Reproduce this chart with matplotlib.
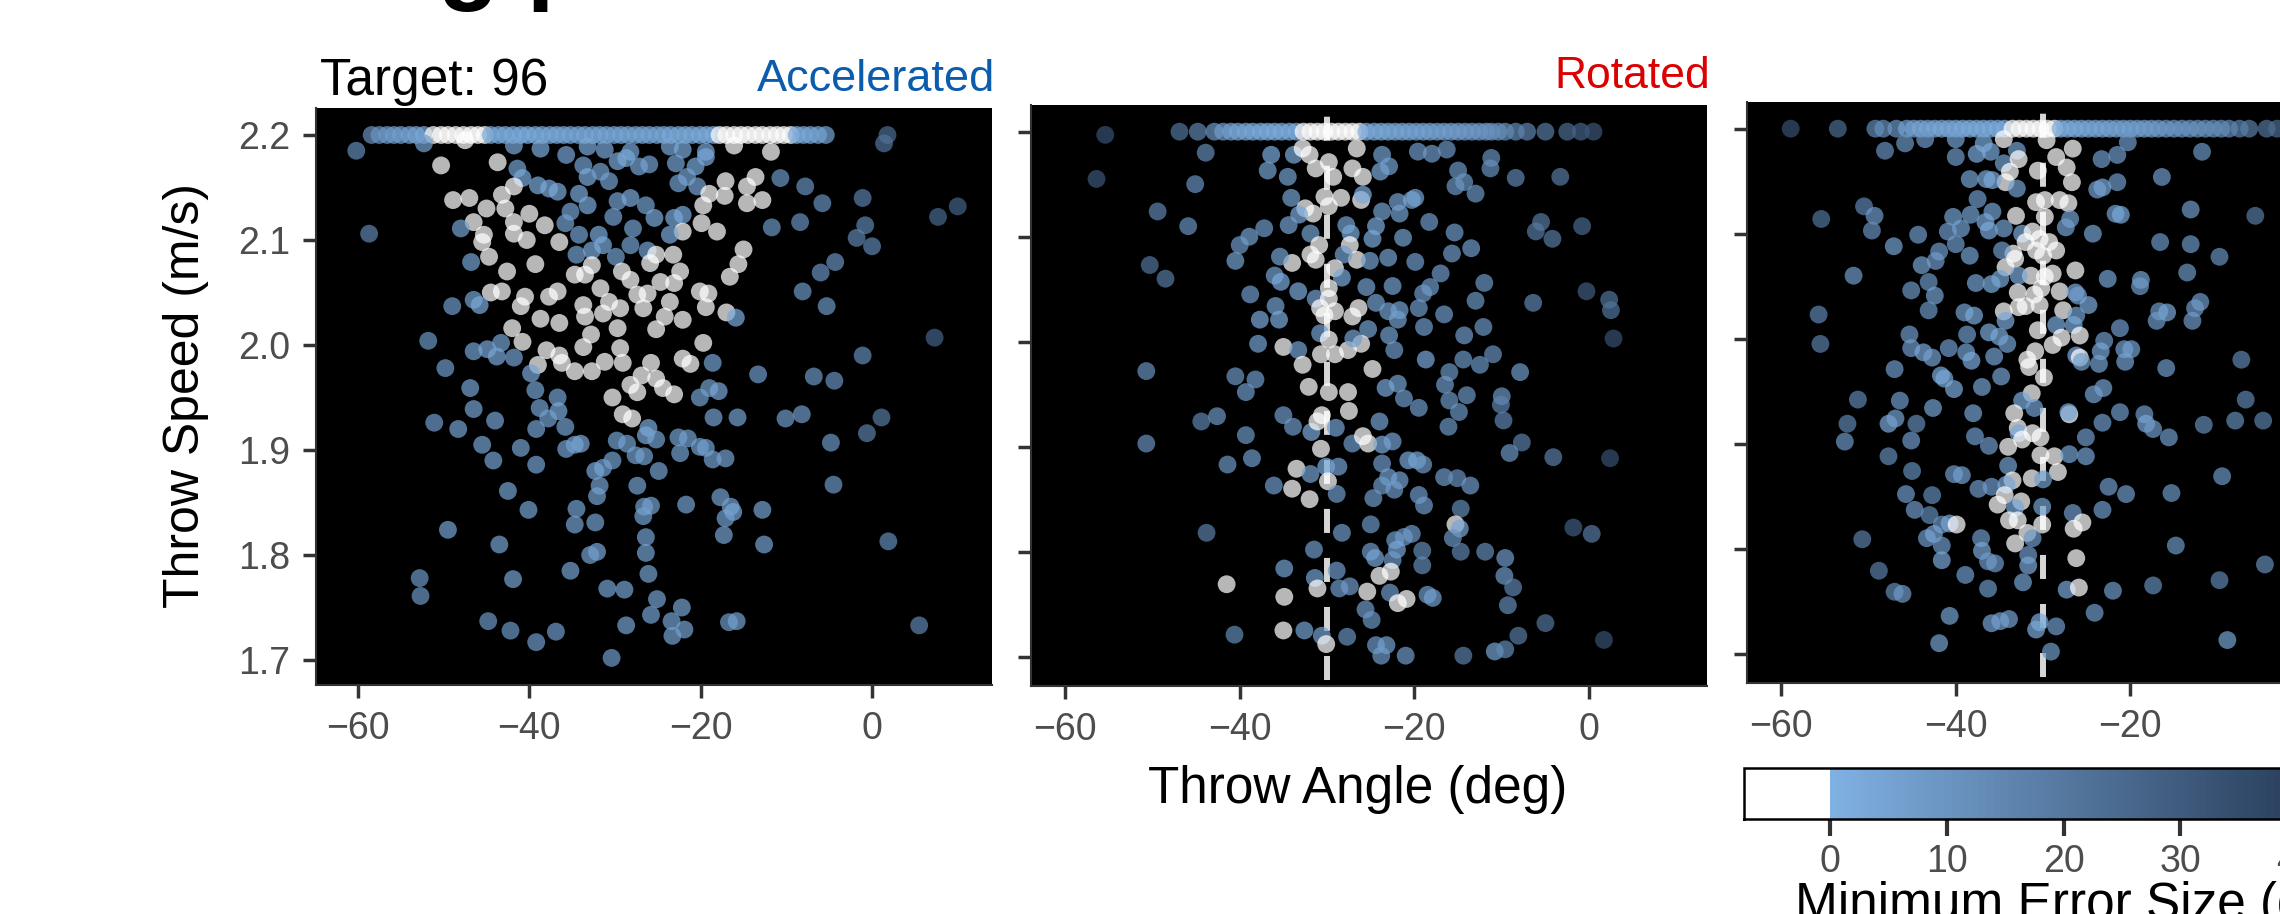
import matplotlib
matplotlib.use("Agg")
import matplotlib.pyplot as plt
from matplotlib.colors import LinearSegmentedColormap, Normalize
from matplotlib.cm import ScalarMappable

plt.rcParams['font.family'] = ['Liberation Sans', 'DejaVu Sans']
plt.rcParams['lines.scale_dashes'] = False

# ---------------- data ----------------
panel_titles = ["Accelerated", "Rotated"]
speed_ticks = [1.7, 1.8, 1.9, 2.0, 2.1, 2.2]
angle_ticks = [-60, -40, -20, 0]
error_ticks = [0, 10, 20, 30, 40, 50]
target_angle = -30
top_speed = 2.2

# Panel 1 (Accelerated): throws at the capped top speed
acc_top_angle = [-58.4, -57.5, -56.6, -55.8, -55.0, -54.0, -53.2, -52.3,
                 -51.2, -50.3, -49.5, -48.6, -47.7, -46.8, -46.0, -45.2,
                 -44.5, -43.6, -42.8, -41.9, -41.0, -40.2, -39.3, -38.5, -37.6, -36.8,
                 -36.0, -35.2, -34.3, -33.5, -32.6, -31.8, -31.0, -30.1, -29.3, -28.5,
                 -27.6, -26.8, -26.0, -25.1, -24.3, -23.5, -22.6, -21.8, -21.0, -20.1,
                 -19.3, -18.5,
                 -17.8, -17.0, -16.1, -15.3, -14.5, -13.6, -12.8, -11.9, -11.1, -10.3, -9.5,
                 -8.8, -8.0, -7.2, -6.3, -5.4, 1.8]
acc_top_error = [12, 10, 8, 7, 6, 5, 4, 3,
                 -4, -4, -4, -4, -4, -4, -4, -4,
                 3, 3, 2, 2, 2, 2, 2, 3, 3, 3,
                 4, 4, 4, 4, 4, 4, 4, 4, 4, 4,
                 4, 4, 4, 4, 4, 3, 3, 3, 3, 2,
                 2, 2,
                 -4, -4, -4, -4, -4, -4, -4, -4, -4, -4, -4,
                 2, 3, 3, 4, 5, 24]

acc_angle = [-60.2, -52.3, -47.5, -41.8, -38.7, -35.7, -33.2, -31.2, -28.2, -23.6, -22.1, -19.4, -16.1, -11.8, 1.4,
             -50.3, -43.7, -41.4, -33.7, -29.7, -28.7, -26.0, -22.9, -20.6, -19.4, -27.2,
             -40.8, -39.0, -36.7, -37.7, -41.8, -33.2, -31.7, -30.7, -34.2, -22.6, -21.6, -20.4, -17.1, -13.6, -14.6, -10.7, -7.8, -19.0,
             -48.9, -47.0, -43.2, -45.0, -42.8, -40.0, -33.2, -35.2, -29.7, -28.2, -26.4, -19.7, -17.2, -14.6, -12.8, -5.8, -1.1, 10.0, 7.7,
             -46.5, -41.8, -38.2, -35.8, -30.2, -27.9, -25.4, -23.1, -22.1, -19.9, -22.1, -18.1, -11.7, -8.4, -0.8, -1.8, 0.0, -58.7, -48.0,
             -45.3, -45.5, -41.8, -40.3, -36.5, -34.2, -31.9, -31.4, -28.2, -23.6, -26.2, -15.0,
             -44.7, -46.8, -42.6, -39.3, -34.5, -32.7, -29.9, -32.7, -25.2, -23.2, -25.9, -29.2, -22.4, -15.6, -16.6, -4.3, -6.0,
             -34.7, -33.5, -28.2, -31.7, -24.7, -23.1, -20.1, -19.1, -27.4, -26.2, -44.5, -43.2, -40.5, -37.7, -36.7, -8.1,
             -49.0, -46.5, -45.8, -41.0, -33.7, -30.7, -29.4, -26.7, -23.6, -19.4, -17.0, -15.9, -5.3, -38.7, -36.5, -33.5, -31.4, -24.2, -22.1,
             -42.0, -40.8, -32.8, -29.7, -25.2, -33.7, -29.4, -19.7, -51.8, 7.3, -1.1,
             -46.5, -44.9, -43.3, -43.8, -41.8, -38.0, -36.5, -39.0, -36.2, -34.7, -32.7, -31.2, -29.1, -25.8, -22.1, -21.2, -18.6, -39.8, -49.8, -13.3, -6.8, -4.4,
             -26.9, -28.2, -25.2, -24.4, -23.1, -27.4, -46.9, -39.3, -19.0, -17.9, -36.7, -30.3, -20.1,
             -46.5, -51.1, -48.3, -44.0, -45.5, -44.2, -41.0, -39.2, -38.8, -36.6, -37.8, -35.8, -34.7, -34.0, -35.7, -39.2,
             -29.1, -28.0, -18.5, -15.7, -10.1, -8.2, 1.1, -0.6, -4.8,
             -29.8, -28.6, -26.1, -26.4, -25.2, -22.6, -21.5, -20.1, -19.4, -22.4, -18.6, -17.1, -27.6, -26.6, -30.3, -31.4, -32.3, -24.9, -31.8,
             -32.1, -27.4, -42.5, -40.1, -34.5, -34.7, -32.3, -26.6, -25.8, -26.7, -21.7, -17.7, -16.5, -16.2, -17.1, -12.8, -4.5, -17.3,
             -12.6, 1.9, -49.5, -43.5, -26.4, -26.4, -32.1, -32.9, -35.2, -26.1, -52.8, -52.7, -41.9, -30.9, -28.9, -25.1, -22.2, -25.8,
             -23.4, -21.9, -23.3, -28.7, -16.7, -15.8, -44.8, -42.2, -36.9, -39.2, -30.4, 5.5]
acc_speed = [2.185, 2.192, 2.195, 2.190, 2.187, 2.181, 2.189, 2.186, 2.184, 2.189, 2.186, 2.184, 2.190, 2.184, 2.192,
             2.171, 2.174, 2.168, 2.171, 2.175, 2.178, 2.172, 2.173, 2.170, 2.179, 2.170,
             2.159, 2.152, 2.146, 2.149, 2.151, 2.160, 2.165, 2.156, 2.144, 2.154, 2.160, 2.151, 2.156, 2.160, 2.151, 2.159, 2.151, 2.144,
             2.138, 2.140, 2.143, 2.130, 2.130, 2.125, 2.133, 2.127, 2.137, 2.140, 2.133, 2.133, 2.142, 2.135, 2.138, 2.135, 2.140, 2.132, 2.122,
             2.117, 2.117, 2.114, 2.116, 2.122, 2.111, 2.121, 2.121, 2.124, 2.116, 2.108, 2.108, 2.112, 2.117, 2.114, 2.102, 2.094, 2.106, 2.111,
             2.105, 2.098, 2.106, 2.100, 2.098, 2.105, 2.105, 2.095, 2.095, 2.105, 2.090, 2.091,
             2.084, 2.079, 2.070, 2.077, 2.086, 2.090, 2.084, 2.076, 2.086, 2.086, 2.078, 2.070, 2.070, 2.077, 2.065, 2.079, 2.069,
             2.067, 2.067, 2.062, 2.054, 2.060, 2.059, 2.051, 2.049, 2.048, 2.049, 2.050, 2.051, 2.046, 2.046, 2.051, 2.051,
             2.037, 2.043, 2.038, 2.037, 2.038, 2.041, 2.035, 2.035, 2.041, 2.036, 2.031, 2.026, 2.037, 2.025, 2.021, 2.027, 2.030, 2.027, 2.024,
             2.016, 2.003, 2.010, 2.016, 2.015, 1.998, 1.997, 2.002, 2.004, 2.007, 1.990,
             1.994, 1.996, 2.002, 1.989, 1.988, 1.995, 1.990, 1.981, 1.983, 1.975, 1.975, 1.984, 1.983, 1.983, 1.987, 1.982, 1.983, 1.973, 1.978, 1.972, 1.970, 1.966,
             1.971, 1.962, 1.968, 1.959, 1.953, 1.955, 1.959, 1.957, 1.959, 1.956, 1.950, 1.950, 1.950,
             1.939, 1.926, 1.920, 1.928, 1.905, 1.890, 1.902, 1.920, 1.940, 1.937, 1.930, 1.922, 1.905, 1.906, 1.901, 1.886,
             1.934, 1.930, 1.931, 1.931, 1.930, 1.934, 1.931, 1.916, 1.907,
             1.909, 1.906, 1.921, 1.914, 1.910, 1.912, 1.911, 1.903, 1.902, 1.897, 1.891, 1.892, 1.895, 1.894, 1.890, 1.883, 1.880, 1.880, 1.866,
             1.856, 1.866, 1.861, 1.843, 1.844, 1.829, 1.831, 1.846, 1.847, 1.837, 1.848, 1.855, 1.846, 1.841, 1.835, 1.843, 1.867, 1.819,
             1.810, 1.813, 1.824, 1.810, 1.817, 1.802, 1.803, 1.800, 1.785, 1.782, 1.778, 1.761, 1.777, 1.768, 1.767, 1.758, 1.750, 1.743,
             1.737, 1.729, 1.723, 1.733, 1.736, 1.737, 1.737, 1.728, 1.727, 1.717, 1.702, 1.733]
acc_error = [14, 6, -4, 4, 3, 5, 3, 4, 4, 4, 3, 4, -4, -4, 22,
             -4, -4, 6, 6, 3, 3, 6, 5, 3, 3, 5,
             3, 3, 3, 3, -4, 3, 6, 6, 3, 6, 5, 5, -4, -4, -4, 10, 12, -4,
             -4, -4, -4, -4, -4, -4, 3, 6, 6, 3, 6, -4, -4, -4, -4, 12, 18, 28, 26,
             -4, -4, -4, 6, 6, 6, 3, 3, 3, -4, -4, -4, 10, 12, 16, 16, 16, 16, 6,
             -4, -4, -4, -4, -4, 6, 3, 3, 6, 3, 6, -4,
             -4, 6, -4, -4, 6, 3, 6, -4, -4, -4, -4, -4, -4, -4, -4, 12, 12,
             -4, -4, -4, -4, -4, -4, -4, -4, -4, -4, -4, -4, -4, -4, -4, 10,
             8, 6, 3, -4, -4, -4, -4, -4, -4, -4, -4, 3, 10, -4, -4, -4, -4, -4, -4,
             -4, -4, -4, -4, -4, -4, -4, -4, 10, 28, 14,
             6, 4, 6, 4, 6, -4, -4, -4, -4, -4, -4, -4, -4, -4, -4, -4, 6, 4, 8, 8, 10, 12,
             -4, -4, -4, -4, -4, -4, 6, 6, 6, 4, 6, -4, 6,
             6, 8, 6, 6, 6, 6, 6, 6, 6, 3, 6, 6, 4, 4, 6, 6,
             -4, -4, 6, 6, 8, 8, 20, 18, 10,
             6, 6, 3, 3, 6, 6, 6, 6, 6, 6, 6, 6, 6, 6, 6, 6, 4, 6, 6,
             6, 6, 6, 6, 6, 6, 6, 6, 6, 6, 6, 6, 6, 4, 6, 6, 10, 6,
             6, 14, 6, 6, 6, 6, 4, 6, 6, 6, 10, 10, 6, 6, 6, 6, 6, 6,
             6, 6, 6, 6, 8, 6, 10, 10, 8, 8, 8, 16]

# Panel 2 (Rotated)
rot_top_angle = [-46.9, -44.8, -42.9, -41.9, -41.0, -40.2, -39.3, -38.5, -37.6, -36.8, -36.0, -35.2, -34.3, -33.5,
                 -32.7, -31.9, -31.1, -30.3, -29.5, -28.7, -27.9, -27.1, -26.3,
                 -25.5, -24.6, -23.8, -23.0, -22.2, -21.4, -20.6, -19.8, -19.0, -18.2,
                 -17.4, -16.6, -15.8, -15.0, -14.2, -13.4, -12.6, -11.8, -11.2, -10.4,
                 -9.6, -8.4, -7.1, -5.0, -2.5, -0.95, 0.5]
rot_top_error = [22, 16, 10, 7, 5, 4, 3, 3, 2, 2, 2, 2, 2, 1,
                 -4, -4, -4, -4, -4, -4, -4, -4, -4,
                 1, 2, 3, 3, 4, 4, 4, 5, 5, 5,
                 6, 6, 6, 7, 7, 8, 8, 9, 10, 11,
                 12, 14, 16, 20, 24, 28, 32]

rot_angle = [-55.4, -43.9, -56.4, -45.1, -49.4, -45.9, -50.3, -48.5, -50.7,
             -36.4, -36.8, -34.5, -33.8, -32.8, -32.0, -31.3, -29.8, -29.3, -27.1, -26.6, -25.9, -23.7, -23.9, -22.9, -19.6, -18.0, -16.3, -11.2, -11.3, -15.0, -14.3, -15.3, -13.0, -8.4, -3.3,
             -34.1, -30.3, -28.4, -26.1, -25.9, -29.8, -32.5, -31.6, -33.2, -23.7, -21.9, -21.7, -19.9, -20.3, -18.3,
             -34.4, -37.2, -38.9, -40.0, -40.5, -31.9, -27.8, -27.3, -24.4, -24.8, -21.3, -15.4, -13.5, -15.7, -5.5, -6.1, -4.2, -0.8,
             -30.9, -27.4, -31.9, -34.0, -31.3, -35.4, -26.6, -28.1, -25.1, -23.0, -19.9, -29.1, -28.3, -36.0, -35.3, -17.0, -12.0,
             -38.8, -33.3, -31.3, -29.8, -29.8, -25.5, -22.5, -19.0, -18.2, -0.3, 2.3, 2.5, -6.4, -13.0,
             -35.9, -30.8, -30.3, -29.1, -26.4, -27.1, -24.4, -23.0, -21.7, -21.9, -19.5, -16.6, -37.7, -35.5,
             -30.8, -29.8, -25.3, -22.9, -18.9, -12.1, -14.3, 2.8,
             -37.9, -35.0, -33.3, -30.7, -29.1, -27.6, -26.1, -27.0, -22.3, -18.7, -16.0, -14.4, -12.5, -11.0, -7.9, -32.8, -24.8, -40.5, -38.2, -32.1, -29.8, -27.6, -21.9, -23.3, -16.5, -39.3, -14.0, -10.0,
             -44.4, -42.6, -50.7, -39.3, -38.6, -41.4, -35.0, -33.9, -31.8, -31.1, -30.6, -27.5, -29.0, -30.7, -27.1, -25.9, -25.3, -23.7, -22.5, -24.0, -21.2, -19.5, -16.0, -14.9, -16.1, -10.1, -9.8, -7.7, -9.1, -4.1, 2.4,
             -33.5, -31.9, -30.1, -28.7, -29.9, -36.1, -34.0, -32.0, -28.9, -23.7, -20.7, -19.7, -19.0, -23.0, -21.7, -23.7, -22.3, -24.7, -19.5, -18.9, -16.6, -15.1, -13.6, -14.7,
             -43.8, -28.3, -25.0, -15.3, -14.8, -15.6, -22.2, -20.3, -21.2, -1.8, 0.3,
             -31.5, -25.0, -24.5, -22.0, -22.5, -19.1, -19.1, -14.7, -11.9, -9.6, -9.7, -8.7, -9.3,
             -34.9, -28.9, -31.4, -22.7, -24.0, -41.5, -34.9, -31.1, -28.6, -27.4, -25.4, -22.8, -20.9, -21.9, -18.5, -17.9, -25.6, -24.9, -5.0,
             -40.6, -35.0, -32.6, -30.6, -30.1, -27.7, -24.4, -23.2, -23.8, -21.0, -14.4, -10.8, -9.6, -8.1, 1.7]
rot_speed = [2.197, 2.180, 2.155, 2.150, 2.124, 2.110, 2.073, 2.060, 1.972,
             2.178, 2.163, 2.157, 2.178, 2.184, 2.178, 2.165, 2.171, 2.157, 2.165, 2.184, 2.157, 2.178, 2.162, 2.167, 2.181, 2.179, 2.183, 2.175, 2.165, 2.163, 2.152, 2.148, 2.141, 2.156, 2.157,
             2.137, 2.138, 2.137, 2.135, 2.140, 2.129, 2.127, 2.122, 2.121, 2.124, 2.133, 2.122, 2.137, 2.135, 2.114,
             2.111, 2.108, 2.100, 2.092, 2.077, 2.103, 2.111, 2.103, 2.110, 2.098, 2.099, 2.104, 2.089, 2.084, 2.114, 2.105, 2.098, 2.110,
             2.092, 2.092, 2.083, 2.075, 2.078, 2.081, 2.078, 2.083, 2.077, 2.080, 2.076, 2.070, 2.061, 2.063, 2.057, 2.065, 2.056,
             2.045, 2.048, 2.041, 2.051, 2.041, 2.052, 2.053, 2.046, 2.052, 2.048, 2.040, 2.030, 2.037, 2.039,
             2.034, 2.032, 2.025, 2.029, 2.032, 2.024, 2.037, 2.029, 2.030, 2.021, 2.032, 2.026, 2.021, 2.021,
             2.008, 2.002, 2.012, 2.006, 2.014, 2.014, 2.006, 2.003,
             1.998, 1.995, 1.992, 1.988, 1.988, 1.992, 1.998, 2.003, 1.992, 1.983, 1.971, 1.983, 1.978, 1.988, 1.971, 1.978, 1.974, 1.967, 1.964, 1.957, 1.952, 1.952, 1.960, 1.956, 1.959, 1.952, 1.949, 1.948,
             1.924, 1.929, 1.903, 1.911, 1.889, 1.883, 1.930, 1.919, 1.914, 1.924, 1.930, 1.934, 1.918, 1.898, 1.903, 1.910, 1.903, 1.902, 1.905, 1.924, 1.946, 1.937, 1.944, 1.933, 1.919, 1.940, 1.925, 1.904, 1.894, 1.890, 1.889,
             1.879, 1.874, 1.881, 1.881, 1.867, 1.863, 1.860, 1.850, 1.855, 1.884, 1.887, 1.887, 1.883, 1.871, 1.868, 1.863, 1.859, 1.851, 1.854, 1.844, 1.871, 1.870, 1.863, 1.841,
             1.818, 1.818, 1.826, 1.826, 1.822, 1.813, 1.811, 1.817, 1.814, 1.823, 1.817,
             1.802, 1.800, 1.794, 1.802, 1.792, 1.801, 1.787, 1.800, 1.800, 1.794, 1.777, 1.766, 1.749,
             1.784, 1.782, 1.775, 1.781, 1.777, 1.769, 1.757, 1.765, 1.765, 1.767, 1.762, 1.761, 1.755, 1.751, 1.759, 1.756, 1.745, 1.735, 1.732,
             1.721, 1.725, 1.725, 1.720, 1.712, 1.719, 1.711, 1.711, 1.701, 1.701, 1.701, 1.705, 1.707, 1.720, 1.716]
rot_error = [34, 14, 32, 12, 16, 12, 22, 20, 12,
             3, 6, 6, 3, -4, -4, -4, -4, -4, -4, -4, -4, 6, 3, 6, 8, 8, 10, 12, 12, 10, 10, 10, 10, 16, 20,
             6, -4, -4, -4, 3, -4, -4, -4, 3, 6, 6, 6, 6, 4, 8,
             6, 8, 6, 8, 6, 6, 6, 3, 3, 3, 6, 8, 8, 8, 20, 20, 20, 26,
             -4, -4, -4, -4, -4, 6, -4, 6, 6, 6, 8, -4, 3, 6, 3, 8, 10,
             8, 3, 6, -4, -4, 6, 6, 8, 8, 30, 22, 22, 16, 10,
             6, -4, -4, -4, -4, -4, 6, 6, 6, 6, 8, 8, 4, 3,
             6, -4, 6, 6, 8, 10, 8, 34,
             6, -4, 6, -4, -4, -4, -4, 6, 8, 4, 10, 10, 10, 12, 8, -4, -4, 10, 8, -4, -4, -4, 6, 4, 8, 8, 10, 10,
             16, 10, 12, 10, 8, 10, 8, 8, 3, -4, -4, -4, 6, -4, 8, -4, -4, 3, 6, 6, 8, 8, 10, 10, 10, 16, 16, 18, 10, 18, 34,
             -4, 6, 3, 6, -4, 8, -4, -4, 8, 8, 4, 4, 8, 6, 6, 8, 8, 8, 8, 8, 8, 12, 8, 14,
             18, 8, 10, -4, 4, 10, 8, 8, 8, 30, 20,
             8, 8, 4, 4, 8, 14, 14, 16, 14, 8, 8, 16, 14,
             6, 8, 6, -4, -4, -4, -4, -4, 8, 8, -4, 8, -4, -4, 8, 6, 8, 10, 22,
             14, -4, 6, 6, -4, 12, 8, 6, 8, 8, 18, 6, 14, 20, 34]

# Panel 3
p3_top_angle = [-58.9, -53.5, -49.2, -48.3, -46.8, -45.6, -44.8, -44.0, -43.2, -42.4,
                -41.6, -40.8, -40.0, -39.2, -38.4, -37.6, -36.8, -36.0, -35.2, -34.4,
                -33.5, -32.7, -31.9, -31.1, -30.3, -29.5, -28.7,
                -28.0, -27.2, -26.4, -25.6, -24.8, -24.0, -23.2, -22.4, -21.6, -20.8,
                -20.0, -19.2, -18.4, -17.6, -16.8, -15.9, -15.0, -14.1, -13.2, -12.3,
                -11.4, -10.5, -9.6, -8.7, -7.5, -6.4, -4.4, -3.2]
p3_top_error = [34, 24, 14, 12, 10, 6, 5, 4, 4, 3,
                3, 3, 3, 2, 2, 2, 2, 2, 1, 1,
                -4, -4, -4, -4, -4, -4, -4,
                1, 2, 2, 3, 3, 4, 4, 4, 5, 5,
                5, 6, 6, 7, 7, 8, 8, 9, 9, 10,
                11, 11, 12, 13, 16, 18, 22, 24]

p3_angle = [-48.1, -45.8, -43.5, -40.0, -40.0, -37.6, -36.0, -36.8, -34.5, -33.0, -32.8, -34.5, -29.6, -28.5, -26.6, -27.3, -30.6, -26.7, -33.8, -34.3, -38.4, -36.5, -35.8, -33.0, -23.3, -21.5, -20.3, -11.8, -16.4, -21.5, -23.2, -23.8,
            -37.5, -35.8, -38.3, -40.3, -50.5, -49.3, -55.4, -49.6, -44.3, -47.1, -40.9, -39.4, -40.0, -36.6, -36.2, -34.5, -33.1, -30.8, -29.8, -28.1, -27.1, -29.8, -26.9, -27.4, -21.7, -21.1, -24.3, -13.1, -5.7,
            -32.4, -31.2, -32.0, -30.4, -29.3, -28.5, -30.8, -30.0, -33.4, -34.7, -38.4, -41.9, -42.3, -43.9, -16.6, -13.1, -9.8,
            -51.7, -34.3, -33.2, -31.4, -29.8, -28.9, -26.3, -32.8, -35.9, -34.9, -37.7, -43.1, -45.1, -42.4, -22.6, -18.8, -18.9, -13.5,
            -32.9, -31.0, -30.2, -28.1, -26.3, -26.0, -24.8, -43.1, -39.0, -37.9, -34.5, -32.8, -32.0, -30.4, -27.7, -26.2, -34.3, -28.5, -26.5, -55.7, -16.7, -15.8, -17.0, -12.0, -12.6, -12.9, -21.2,
            -45.3, -38.7, -36.2, -35.0, -34.1, -30.6, -27.9, -28.9, -25.8, -23.0, -23.4, -20.7, -19.9, -55.5, -45.1, -43.7, -42.7, -40.8, -38.8, -38.2, -35.6, -30.9, -31.8, -31.6, -29.9, -26.2, -25.8, -25.6, -23.6, -20.6, -15.9, -7.3, -47.0, -41.7, -41.3, -34.8, -40.2, -37.0, -23.1, -24.2, -31.3,
            -51.2, -46.4, -42.6, -38.0, -32.4, -31.0, -33.3, -32.9, -32.8, -32.4, -31.2, -30.3, -34.0, -30.3, -28.7, -28.3, -27.0, -27.1, -21.2, -23.2, -18.4, -18.2, -17.4, -15.6, -11.6, -8.0, -4.8, -6.8,
            -52.4, -47.7, -46.9, -44.5, -52.7, -45.1, -47.7, -37.8, -36.2, -25.1, -27.0, -25.1, -45.0, -40.2, -39.3, -34.0, -33.5, -31.3, -30.0, -37.4, -35.9, -34.2, -34.4, -35.2, -32.5, -33.2, -30.1, -22.5, -20.5, -15.3, -9.5,
            -45.7, -42.7, -44.7, -43.0, -41.6, -40.7, -39.9, -33.9, -32.9, -30.1, -26.6, -23.2, -25.5, -26.5,
            -50.7, -43.3, -42.5, -41.6, -31.8, -31.2, -33.2, -37.1, -37.0, -36.3, -35.5, -41.6, -31.7, -31.7, -26.2, -14.8, -4.6,
            -48.8, -38.9, -36.3, -32.3, -27.3, -25.9, -22.0, -17.4, -9.8, -47.0, -46.1, -40.7, -35.9, -34.9, -33.9, -30.4, -30.8, -28.5, -24.1, -41.9, -29.1, -8.9]
p3_speed = [2.179, 2.186, 2.190, 2.173, 2.190, 2.176, 2.178, 2.186, 2.167, 2.179, 2.171, 2.190, 2.189, 2.173, 2.181, 2.163, 2.160, 2.149, 2.159, 2.149, 2.152, 2.152, 2.151, 2.143, 2.171, 2.175, 2.187, 2.178, 2.154, 2.149, 2.144, 2.142,
            2.133, 2.121, 2.118, 2.116, 2.126, 2.117, 2.114, 2.103, 2.099, 2.088, 2.102, 2.105, 2.090, 2.111, 2.103, 2.105, 2.117, 2.130, 2.132, 2.132, 2.129, 2.116, 2.114, 2.106, 2.119, 2.118, 2.100, 2.123, 2.117,
            2.100, 2.102, 2.092, 2.095, 2.092, 2.084, 2.084, 2.079, 2.081, 2.084, 2.079, 2.083, 2.074, 2.070, 2.092, 2.090, 2.078,
            2.060, 2.068, 2.076, 2.060, 2.059, 2.062, 2.065, 2.060, 2.052, 2.057, 2.053, 2.054, 2.046, 2.041, 2.057, 2.056, 2.050, 2.063,
            2.044, 2.042, 2.048, 2.045, 2.044, 2.041, 2.032, 2.027, 2.025, 2.022, 2.026, 2.030, 2.031, 2.032, 2.027, 2.022, 2.017, 2.013, 2.013, 2.023, 2.026, 2.025, 2.017, 2.035, 2.029, 2.017, 2.010,
            2.004, 2.004, 2.006, 2.002, 1.995, 2.008, 2.001, 1.994, 2.003, 1.998, 1.988, 1.990, 1.990, 1.995, 1.991, 1.987, 1.982, 1.991, 1.987, 1.979, 1.983, 1.988, 1.980, 1.973, 1.963, 1.984, 1.982, 1.978, 1.976, 1.978, 1.972, 1.980, 1.971, 1.965, 1.962, 1.964, 1.952, 1.954, 1.953, 1.947, 1.948,
            1.942, 1.941, 1.934, 1.929, 1.941, 1.934, 1.929, 1.915, 1.910, 1.904, 1.910, 1.906, 1.897, 1.889, 1.888, 1.873, 1.928, 1.930, 1.930, 1.920, 1.928, 1.919, 1.914, 1.906, 1.918, 1.922, 1.922, 1.942,
            1.919, 1.919, 1.924, 1.919, 1.902, 1.903, 1.888, 1.907, 1.898, 1.906, 1.890, 1.888, 1.874, 1.871, 1.870, 1.879, 1.865, 1.867, 1.866, 1.857, 1.859, 1.861, 1.851, 1.842, 1.845, 1.839, 1.840, 1.859, 1.852, 1.853, 1.869,
            1.852, 1.851, 1.837, 1.832, 1.823, 1.824, 1.823, 1.827, 1.827, 1.823, 1.834, 1.837, 1.825, 1.819,
            1.809, 1.810, 1.814, 1.803, 1.815, 1.810, 1.805, 1.810, 1.798, 1.788, 1.786, 1.789, 1.794, 1.784, 1.791, 1.803, 1.785,
            1.779, 1.775, 1.762, 1.768, 1.761, 1.763, 1.760, 1.765, 1.770, 1.759, 1.757, 1.736, 1.729, 1.731, 1.733, 1.730, 1.723, 1.726, 1.739, 1.710, 1.702, 1.713]
p3_error = [12, 10, 8, 8, 6, 3, 3, 3, 6, 6, -4, -4, -4, -4, -4, -4, -4, -4, -4, -4, 6, 3, 3, 6, 8, 8, 8, 10, 8, 8, 3, 6,
            8, 6, 6, 6, 16, 8, 22, 12, 8, 6, 8, 6, 8, 3, 3, 6, -4, -4, -4, -4, -4, -4, 6, 6, 6, 3, 6, 8, 20,
            3, -4, -4, -4, -4, -4, -4, -4, -4, 8, 6, 8, 8, 6, 10, 10, 12,
            8, -4, -4, -4, -4, -4, -4, 3, 3, 4, 6, 10, 10, 6, 6, 6, 8, 10,
            -4, -4, -4, -4, 3, 6, 3, 10, 6, 3, -4, -4, -4, -4, -4, 6, 3, 3, 3, 16, 8, 4, 8, 8, 8, 8, 8,
            8, 8, 3, 3, 6, -4, -4, -4, -4, 8, 4, 6, 6, 18, 8, 4, 6, 8, 6, 3, 6, -4, -4, -4, -4, 3, -4, 6, 6, 6, 8, 16, 8, 3, 3, 6, 3, 6, 6, 6, -4,
            16, 8, 6, 6, 3, 6, -4, -4, 3, -4, -4, -4, -4, -4, -4, -4, -4, 3, 8, 8, 8, 4, 8, 8, 14, 14, 18, 16,
            16, 4, 6, 14, 10, 8, 14, 8, 8, 8, 6, 6, 14, 8, 6, 6, -4, -4, 6, 8, 8, 3, -4, -4, -4, 3, 6, 8, 8, 10, 10,
            8, 14, 8, 14, 10, 4, -4, -4, -4, -4, 8, 8, -4, -4,
            18, 8, 4, 8, -4, 8, -4, 8, 4, 8, 8, 4, 8, 4, -4, 10, 14,
            18, 8, 10, 6, 4, -4, 8, 14, 16, 14, 8, 6, 6, 6, 6, 3, 3, 8, 8, 6, 8, 6]

# ---------------- styling ----------------
W, H = 2280, 914
ERR_MIN, ERR_MAX = -7.4, 50.0
z0 = (0 - ERR_MIN) / (ERR_MAX - ERR_MIN)
cmap = LinearSegmentedColormap.from_list(
    "err", [(0.0, "#ffffff"), (z0, "#ffffff"), (z0, "#80b1e3"), (1.0, "#14223a")])
norm = Normalize(ERR_MIN, ERR_MAX)

TICK_C = "#333333"
LAB_C = "#4d4d4d"
DOT_S = 165


def box(l, t, r, b):
    return [l / W, 1 - b / H, (r - l) / W, (b - t) / H]


def lab(v):
    return str(v).replace("-", "\u2212")


fig = plt.figure(figsize=(22.8, 9.14), dpi=100)
fig.patch.set_facecolor("white")

ax1 = fig.add_axes(box(316, 108, 992, 685))
ax2 = fig.add_axes(box(1031, 105, 1707, 686))
ax3 = fig.add_axes(box(1747, 102, 2423, 683))

panels = [
    (ax1, acc_top_angle, acc_top_error, acc_angle, acc_speed, acc_error, (-64.9, 14.0), (1.6762, 2.2257), False),
    (ax2, rot_top_angle, rot_top_error, rot_angle, rot_speed, rot_error, (-63.9, 13.5), (1.6721, 2.2254), True),
    (ax3, p3_top_angle, p3_top_error, p3_angle, p3_speed, p3_error, (-63.9, 13.5), (1.6721, 2.2254), True),
]

for i, (ax, ta, te, a, s, e, xl, yl, vline) in enumerate(panels):
    ax.set_facecolor("black")
    if vline:
        ax.axvline(target_angle, color="#d6d6d6", lw=4.3,
                   linestyle=(31, (17.3, 18.0)), zorder=1)
    ax.scatter(ta, [top_speed] * len(ta), c=te, cmap=cmap, norm=norm,
               s=DOT_S, alpha=0.72, linewidths=0, zorder=2)
    ax.scatter(a, s, c=e, cmap=cmap, norm=norm,
               s=DOT_S, alpha=0.72, linewidths=0, zorder=3)
    ax.set_xlim(*xl)
    ax.set_ylim(*yl)
    ax.set_xticks(angle_ticks)
    ax.set_xticklabels([lab(v) for v in angle_ticks])
    ax.set_yticks(speed_ticks)
    ax.set_yticklabels([f"{v:.1f}" for v in speed_ticks])
    for side in ("top", "right"):
        ax.spines[side].set_visible(False)
    for side in ("left", "bottom"):
        ax.spines[side].set_color(TICK_C)
        ax.spines[side].set_linewidth(1.5)
    ax.tick_params(axis="both", direction="out", length=9.5, width=2.5,
                   color=TICK_C, labelcolor=LAB_C, labelsize=27, pad=9)
    if i > 0:
        ax.tick_params(axis="y", labelleft=False)

# ---------------- texts ----------------
fig.text(49 / W, 1 + 9 / H, "Throwing performance", fontsize=72,
         fontweight="bold", ha="left", va="baseline")
fig.text(320 / W, 1 - 95 / H, "Target: 96", fontsize=37, ha="left", va="baseline")
fig.text(995 / W, 1 - 91 / H, panel_titles[0], fontsize=32.5, color="#0b5cad",
         ha="right", va="baseline")
fig.text(1710 / W, 1 - 88 / H, panel_titles[1], fontsize=32, color="#dd0000",
         ha="right", va="baseline")
fig.text(186 / W, 1 - 396 / H, "Throw Speed (m/s)", fontsize=36, rotation=90,
         ha="center", va="center")
fig.text(1358 / W, 1 - 789 / H, "Throw Angle (deg)", fontsize=37,
         ha="center", va="center")

# ---------------- colour bar ----------------
px_per_unit = 11.67
cb_left = 1744
cb_right = cb_left + (ERR_MAX - ERR_MIN) * px_per_unit
cax = fig.add_axes(box(cb_left, 768, cb_right, 819))
sm = ScalarMappable(norm=norm, cmap=cmap)
cb = fig.colorbar(sm, cax=cax, orientation="horizontal", ticks=error_ticks)
cb.outline.set_edgecolor("black")
cb.outline.set_linewidth(1.8)
cax.tick_params(axis="x", direction="out", length=12, width=3, color=TICK_C,
                labelcolor=LAB_C, labelsize=27, pad=6)
cax.set_xticklabels([lab(v) for v in error_ticks])
fig.text(1795 / W, 1 - 881 / H, "Minimum Error Size (deg)", fontsize=37,
         ha="left", va="top")

fig.savefig("out.png", dpi=100)
